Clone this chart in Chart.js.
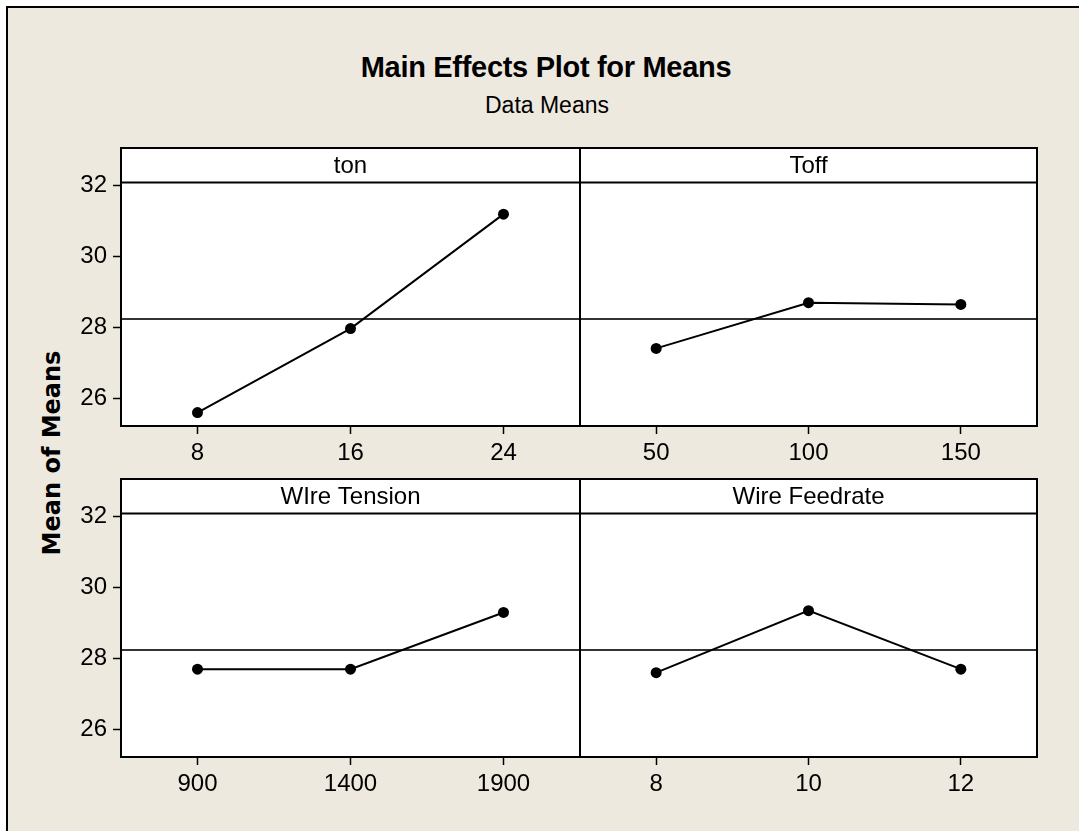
<!DOCTYPE html>
<html>
<head>
<meta charset="utf-8">
<script src="https://cdn.jsdelivr.net/npm/chart.js@4.4.0/dist/chart.umd.min.js"></script>
<style>
  html, body { margin: 0; padding: 0; background: #fff; overflow: hidden; }
  #page { position: relative; width: 1079px; height: 831px; overflow: hidden; }
  #frame {
    position: absolute; left: 6px; top: 6px; width: 1100px; height: 900px;
    background: #EEE9DF; border-left: 2px solid #000; border-top: 2px solid #000;
  }
  .txt { position: absolute; color: #000; text-align: center; white-space: nowrap; }
  #title { left: 0; width: 1092px; top: 53px; font: bold 29px/29px "Liberation Sans", Arial, sans-serif; letter-spacing: -0.3px; }
  #subtitle { left: 0; width: 1094px; top: 94px; font: 23px/23px "Liberation Sans", Arial, sans-serif; }
  #ylabel {
    left: -98px; top: 438px; width: 300px; height: 30px;
    font: bold 24px/30px "DejaVu Sans", Verdana, sans-serif;
    transform: rotate(-90deg);
  }
  canvas { position: absolute; }
</style>
</head>
<body>
<div id="page">
  <div id="frame"></div>
  <div class="txt" id="title">Main Effects Plot for Means</div>
  <div class="txt" id="subtitle">Data Means</div>
  <div class="txt" id="ylabel">Mean of Means</div>
  <canvas id="c1" width="521" height="330" style="left:60px;top:140px"></canvas>
  <canvas id="c2" width="460" height="330" style="left:580px;top:140px"></canvas>
  <canvas id="c3" width="521" height="330" style="left:60px;top:471px"></canvas>
  <canvas id="c4" width="460" height="330" style="left:580px;top:471px"></canvas>
</div>
<script>
// factor levels and mean responses
const tonLevels = ['8', '16', '24'];
const tonMeans = [25.60, 27.97, 31.20];

const toffLevels = ['50', '100', '150'];
const toffMeans = [27.41, 28.70, 28.65];

const tensionLevels = ['900', '1400', '1900'];
const tensionMeans = [27.70, 27.70, 29.30];

const feedLevels = ['8', '10', '12'];
const feedMeans = [27.60, 29.35, 27.70];

const grandMean = 28.24;
const yTicks = [26, 28, 30, 32];
const yMin = 25.22;
const yMax = 32.09;

const tickFont = { family: 'Liberation Sans', size: 24 };

// white panel, strip header, frame and the grand mean reference line
const panelFrame = {
  id: 'panelFrame',
  beforeDraw(chart) {
    const { ctx, chartArea: a } = chart;
    const t = chart.titleBlock;
    ctx.save();
    ctx.fillStyle = '#fff';
    ctx.fillRect(a.left, t.top, a.right - a.left, a.bottom - t.top);
    ctx.restore();
  },
  beforeDatasetsDraw(chart, args, opts) {
    const { ctx, chartArea: a } = chart;
    const y = chart.scales.y.getPixelForValue(opts.mean);
    ctx.save();
    ctx.strokeStyle = '#333';
    ctx.lineWidth = 2;
    ctx.beginPath();
    ctx.moveTo(a.left, y);
    ctx.lineTo(a.right, y);
    ctx.stroke();
    ctx.restore();
  },
  afterDraw(chart) {
    const { ctx, chartArea: a } = chart;
    const t = chart.titleBlock;
    ctx.save();
    ctx.strokeStyle = '#000';
    ctx.lineWidth = 2;
    ctx.strokeRect(a.left, t.top, a.right - a.left, a.bottom - t.top);
    ctx.beginPath();
    ctx.moveTo(a.left, a.top);
    ctx.lineTo(a.right, a.top);
    ctx.stroke();
    ctx.restore();
  }
};

function makePanel(id, name, levels, means, showY) {
  const ctx = document.getElementById(id).getContext('2d');
  return new Chart(ctx, {
    type: 'line',
    data: {
      labels: levels,
      datasets: [{
        label: name,
        data: means,
        borderColor: '#000',
        borderWidth: 2,
        backgroundColor: '#000',
        pointRadius: 5.5,
        pointBackgroundColor: '#000',
        pointBorderWidth: 0,
        tension: 0,
        fill: false
      }]
    },
    plugins: [panelFrame],
    options: {
      responsive: false,
      animation: false,
      layout: { autoPadding: false, padding: { top: 8, right: showY ? 1 : 3, left: 0, bottom: 0 } },
      scales: {
        x: {
          type: 'category',
          offset: true,
          afterFit: s => { s.height = 44; s.paddingLeft = 0; s.paddingRight = 0; },
          grid: { offset: false, drawOnChartArea: false, tickLength: 8, tickWidth: 1.5, tickColor: '#000' },
          border: { display: false },
          ticks: { color: '#000', padding: 5, font: tickFont, maxRotation: 0, autoSkip: false }
        },
        y: {
          display: showY,
          min: yMin,
          max: yMax,
          afterBuildTicks: s => { s.ticks = yTicks.map(v => ({ value: v })); },
          afterFit: s => { s.width = showY ? 61 : 0; },
          grid: { drawOnChartArea: false, tickLength: 8, tickWidth: 1.5, tickColor: '#000' },
          border: { display: false },
          ticks: { color: '#000', padding: 6, font: tickFont }
        }
      },
      plugins: {
        legend: { display: false },
        tooltip: { enabled: false },
        title: {
          display: true,
          text: name,
          fullSize: false,
          color: '#000',
          font: { family: 'Liberation Sans', size: 24, weight: 'normal', lineHeight: 1.15 },
          padding: { top: 5, bottom: 2 }
        },
        panelFrame: { mean: grandMean }
      }
    }
  });
}

makePanel('c1', 'ton', tonLevels, tonMeans, true);
makePanel('c2', 'Toff', toffLevels, toffMeans, false);
makePanel('c3', 'WIre Tension', tensionLevels, tensionMeans, true);
makePanel('c4', 'Wire Feedrate', feedLevels, feedMeans, false);
</script>
</body>
</html>
